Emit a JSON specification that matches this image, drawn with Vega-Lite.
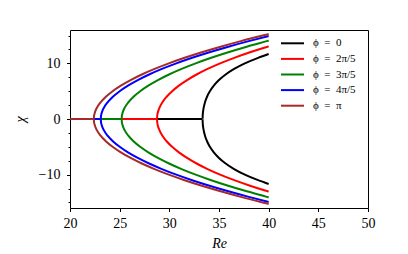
{
  "$schema": "https://vega.github.io/schema/vega-lite/v6.json",
  "autosize": {"type": "none"},
  "padding": {"left": 70, "top": 30, "right": 40, "bottom": 46},
  "width": 298,
  "height": 178,
  "background": "white",
  "config": {"view": {"stroke": "black", "strokeWidth": 1}, "font": "Liberation Serif"},
  "data": {"values": [
    {"phi": "ϕ = 0", "part": "h", "Re": 20, "chi": 0},
    {"phi": "ϕ = 0", "part": "h", "Re": 33.35, "chi": 0},
    {"phi": "ϕ = 0", "part": "b", "Re": 40.0, "chi": -11.68},
    {"phi": "ϕ = 0", "part": "b", "Re": 38.937, "chi": -11},
    {"phi": "ϕ = 0", "part": "b", "Re": 37.6, "chi": -10},
    {"phi": "ϕ = 0", "part": "b", "Re": 36.523, "chi": -9},
    {"phi": "ϕ = 0", "part": "b", "Re": 35.667, "chi": -8},
    {"phi": "ϕ = 0", "part": "b", "Re": 34.995, "chi": -7},
    {"phi": "ϕ = 0", "part": "b", "Re": 34.477, "chi": -6},
    {"phi": "ϕ = 0", "part": "b", "Re": 34.084, "chi": -5},
    {"phi": "ϕ = 0", "part": "b", "Re": 33.795, "chi": -4},
    {"phi": "ϕ = 0", "part": "b", "Re": 33.589, "chi": -3},
    {"phi": "ϕ = 0", "part": "b", "Re": 33.453, "chi": -2},
    {"phi": "ϕ = 0", "part": "b", "Re": 33.407, "chi": -1.5},
    {"phi": "ϕ = 0", "part": "b", "Re": 33.375, "chi": -1},
    {"phi": "ϕ = 0", "part": "b", "Re": 33.356, "chi": -0.5},
    {"phi": "ϕ = 0", "part": "b", "Re": 33.35, "chi": 0},
    {"phi": "ϕ = 0", "part": "b", "Re": 33.356, "chi": 0.5},
    {"phi": "ϕ = 0", "part": "b", "Re": 33.375, "chi": 1},
    {"phi": "ϕ = 0", "part": "b", "Re": 33.407, "chi": 1.5},
    {"phi": "ϕ = 0", "part": "b", "Re": 33.453, "chi": 2},
    {"phi": "ϕ = 0", "part": "b", "Re": 33.589, "chi": 3},
    {"phi": "ϕ = 0", "part": "b", "Re": 33.795, "chi": 4},
    {"phi": "ϕ = 0", "part": "b", "Re": 34.084, "chi": 5},
    {"phi": "ϕ = 0", "part": "b", "Re": 34.477, "chi": 6},
    {"phi": "ϕ = 0", "part": "b", "Re": 34.995, "chi": 7},
    {"phi": "ϕ = 0", "part": "b", "Re": 35.667, "chi": 8},
    {"phi": "ϕ = 0", "part": "b", "Re": 36.523, "chi": 9},
    {"phi": "ϕ = 0", "part": "b", "Re": 37.6, "chi": 10},
    {"phi": "ϕ = 0", "part": "b", "Re": 38.937, "chi": 11},
    {"phi": "ϕ = 0", "part": "b", "Re": 40.0, "chi": 11.68},

    {"phi": "ϕ = 2π/5", "part": "h", "Re": 20, "chi": 0},
    {"phi": "ϕ = 2π/5", "part": "h", "Re": 28.76, "chi": 0},
    {"phi": "ϕ = 2π/5", "part": "b", "Re": 40.0, "chi": -13.05},
    {"phi": "ϕ = 2π/5", "part": "b", "Re": 39.9, "chi": -13},
    {"phi": "ϕ = 2π/5", "part": "b", "Re": 38.126, "chi": -12},
    {"phi": "ϕ = 2π/5", "part": "b", "Re": 36.532, "chi": -11},
    {"phi": "ϕ = 2π/5", "part": "b", "Re": 35.11, "chi": -10},
    {"phi": "ϕ = 2π/5", "part": "b", "Re": 33.85, "chi": -9},
    {"phi": "ϕ = 2π/5", "part": "b", "Re": 32.743, "chi": -8},
    {"phi": "ϕ = 2π/5", "part": "b", "Re": 31.784, "chi": -7},
    {"phi": "ϕ = 2π/5", "part": "b", "Re": 30.965, "chi": -6},
    {"phi": "ϕ = 2π/5", "part": "b", "Re": 30.282, "chi": -5},
    {"phi": "ϕ = 2π/5", "part": "b", "Re": 29.729, "chi": -4},
    {"phi": "ϕ = 2π/5", "part": "b", "Re": 29.303, "chi": -3},
    {"phi": "ϕ = 2π/5", "part": "b", "Re": 29.0, "chi": -2},
    {"phi": "ϕ = 2π/5", "part": "b", "Re": 28.895, "chi": -1.5},
    {"phi": "ϕ = 2π/5", "part": "b", "Re": 28.82, "chi": -1},
    {"phi": "ϕ = 2π/5", "part": "b", "Re": 28.775, "chi": -0.5},
    {"phi": "ϕ = 2π/5", "part": "b", "Re": 28.76, "chi": 0},
    {"phi": "ϕ = 2π/5", "part": "b", "Re": 28.775, "chi": 0.5},
    {"phi": "ϕ = 2π/5", "part": "b", "Re": 28.82, "chi": 1},
    {"phi": "ϕ = 2π/5", "part": "b", "Re": 28.895, "chi": 1.5},
    {"phi": "ϕ = 2π/5", "part": "b", "Re": 29.0, "chi": 2},
    {"phi": "ϕ = 2π/5", "part": "b", "Re": 29.303, "chi": 3},
    {"phi": "ϕ = 2π/5", "part": "b", "Re": 29.729, "chi": 4},
    {"phi": "ϕ = 2π/5", "part": "b", "Re": 30.282, "chi": 5},
    {"phi": "ϕ = 2π/5", "part": "b", "Re": 30.965, "chi": 6},
    {"phi": "ϕ = 2π/5", "part": "b", "Re": 31.784, "chi": 7},
    {"phi": "ϕ = 2π/5", "part": "b", "Re": 32.743, "chi": 8},
    {"phi": "ϕ = 2π/5", "part": "b", "Re": 33.85, "chi": 9},
    {"phi": "ϕ = 2π/5", "part": "b", "Re": 35.11, "chi": 10},
    {"phi": "ϕ = 2π/5", "part": "b", "Re": 36.532, "chi": 11},
    {"phi": "ϕ = 2π/5", "part": "b", "Re": 38.126, "chi": 12},
    {"phi": "ϕ = 2π/5", "part": "b", "Re": 39.9, "chi": 13},
    {"phi": "ϕ = 2π/5", "part": "b", "Re": 40.0, "chi": 13.05},

    {"phi": "ϕ = 3π/5", "part": "h", "Re": 20, "chi": 0},
    {"phi": "ϕ = 3π/5", "part": "h", "Re": 25.2, "chi": 0},
    {"phi": "ϕ = 3π/5", "part": "b", "Re": 40.0, "chi": -14.1},
    {"phi": "ϕ = 3π/5", "part": "b", "Re": 39.802, "chi": -14},
    {"phi": "ϕ = 3π/5", "part": "b", "Re": 37.791, "chi": -13},
    {"phi": "ϕ = 3π/5", "part": "b", "Re": 35.928, "chi": -12},
    {"phi": "ϕ = 3π/5", "part": "b", "Re": 34.215, "chi": -11},
    {"phi": "ϕ = 3π/5", "part": "b", "Re": 32.65, "chi": -10},
    {"phi": "ϕ = 3π/5", "part": "b", "Re": 31.235, "chi": -9},
    {"phi": "ϕ = 3π/5", "part": "b", "Re": 29.968, "chi": -8},
    {"phi": "ϕ = 3π/5", "part": "b", "Re": 28.851, "chi": -7},
    {"phi": "ϕ = 3π/5", "part": "b", "Re": 27.882, "chi": -6},
    {"phi": "ϕ = 3π/5", "part": "b", "Re": 27.063, "chi": -5},
    {"phi": "ϕ = 3π/5", "part": "b", "Re": 26.392, "chi": -4},
    {"phi": "ϕ = 3π/5", "part": "b", "Re": 25.871, "chi": -3},
    {"phi": "ϕ = 3π/5", "part": "b", "Re": 25.498, "chi": -2},
    {"phi": "ϕ = 3π/5", "part": "b", "Re": 25.368, "chi": -1.5},
    {"phi": "ϕ = 3π/5", "part": "b", "Re": 25.275, "chi": -1},
    {"phi": "ϕ = 3π/5", "part": "b", "Re": 25.219, "chi": -0.5},
    {"phi": "ϕ = 3π/5", "part": "b", "Re": 25.2, "chi": 0},
    {"phi": "ϕ = 3π/5", "part": "b", "Re": 25.219, "chi": 0.5},
    {"phi": "ϕ = 3π/5", "part": "b", "Re": 25.275, "chi": 1},
    {"phi": "ϕ = 3π/5", "part": "b", "Re": 25.368, "chi": 1.5},
    {"phi": "ϕ = 3π/5", "part": "b", "Re": 25.498, "chi": 2},
    {"phi": "ϕ = 3π/5", "part": "b", "Re": 25.871, "chi": 3},
    {"phi": "ϕ = 3π/5", "part": "b", "Re": 26.392, "chi": 4},
    {"phi": "ϕ = 3π/5", "part": "b", "Re": 27.063, "chi": 5},
    {"phi": "ϕ = 3π/5", "part": "b", "Re": 27.882, "chi": 6},
    {"phi": "ϕ = 3π/5", "part": "b", "Re": 28.851, "chi": 7},
    {"phi": "ϕ = 3π/5", "part": "b", "Re": 29.968, "chi": 8},
    {"phi": "ϕ = 3π/5", "part": "b", "Re": 31.235, "chi": 9},
    {"phi": "ϕ = 3π/5", "part": "b", "Re": 32.65, "chi": 10},
    {"phi": "ϕ = 3π/5", "part": "b", "Re": 34.215, "chi": 11},
    {"phi": "ϕ = 3π/5", "part": "b", "Re": 35.928, "chi": 12},
    {"phi": "ϕ = 3π/5", "part": "b", "Re": 37.791, "chi": 13},
    {"phi": "ϕ = 3π/5", "part": "b", "Re": 39.802, "chi": 14},
    {"phi": "ϕ = 3π/5", "part": "b", "Re": 40.0, "chi": 14.1},

    {"phi": "ϕ = 4π/5", "part": "h", "Re": 20, "chi": 0},
    {"phi": "ϕ = 4π/5", "part": "h", "Re": 23.1, "chi": 0},
    {"phi": "ϕ = 4π/5", "part": "b", "Re": 40.0, "chi": -14.91},
    {"phi": "ϕ = 4π/5", "part": "b", "Re": 37.996, "chi": -14},
    {"phi": "ϕ = 4π/5", "part": "b", "Re": 35.944, "chi": -13},
    {"phi": "ϕ = 4π/5", "part": "b", "Re": 34.044, "chi": -12},
    {"phi": "ϕ = 4π/5", "part": "b", "Re": 32.296, "chi": -11},
    {"phi": "ϕ = 4π/5", "part": "b", "Re": 30.7, "chi": -10},
    {"phi": "ϕ = 4π/5", "part": "b", "Re": 29.256, "chi": -9},
    {"phi": "ϕ = 4π/5", "part": "b", "Re": 27.964, "chi": -8},
    {"phi": "ϕ = 4π/5", "part": "b", "Re": 26.824, "chi": -7},
    {"phi": "ϕ = 4π/5", "part": "b", "Re": 25.836, "chi": -6},
    {"phi": "ϕ = 4π/5", "part": "b", "Re": 25.0, "chi": -5},
    {"phi": "ϕ = 4π/5", "part": "b", "Re": 24.316, "chi": -4},
    {"phi": "ϕ = 4π/5", "part": "b", "Re": 23.784, "chi": -3},
    {"phi": "ϕ = 4π/5", "part": "b", "Re": 23.404, "chi": -2},
    {"phi": "ϕ = 4π/5", "part": "b", "Re": 23.271, "chi": -1.5},
    {"phi": "ϕ = 4π/5", "part": "b", "Re": 23.176, "chi": -1},
    {"phi": "ϕ = 4π/5", "part": "b", "Re": 23.119, "chi": -0.5},
    {"phi": "ϕ = 4π/5", "part": "b", "Re": 23.1, "chi": 0},
    {"phi": "ϕ = 4π/5", "part": "b", "Re": 23.119, "chi": 0.5},
    {"phi": "ϕ = 4π/5", "part": "b", "Re": 23.176, "chi": 1},
    {"phi": "ϕ = 4π/5", "part": "b", "Re": 23.271, "chi": 1.5},
    {"phi": "ϕ = 4π/5", "part": "b", "Re": 23.404, "chi": 2},
    {"phi": "ϕ = 4π/5", "part": "b", "Re": 23.784, "chi": 3},
    {"phi": "ϕ = 4π/5", "part": "b", "Re": 24.316, "chi": 4},
    {"phi": "ϕ = 4π/5", "part": "b", "Re": 25.0, "chi": 5},
    {"phi": "ϕ = 4π/5", "part": "b", "Re": 25.836, "chi": 6},
    {"phi": "ϕ = 4π/5", "part": "b", "Re": 26.824, "chi": 7},
    {"phi": "ϕ = 4π/5", "part": "b", "Re": 27.964, "chi": 8},
    {"phi": "ϕ = 4π/5", "part": "b", "Re": 29.256, "chi": 9},
    {"phi": "ϕ = 4π/5", "part": "b", "Re": 30.7, "chi": 10},
    {"phi": "ϕ = 4π/5", "part": "b", "Re": 32.296, "chi": 11},
    {"phi": "ϕ = 4π/5", "part": "b", "Re": 34.044, "chi": 12},
    {"phi": "ϕ = 4π/5", "part": "b", "Re": 35.944, "chi": 13},
    {"phi": "ϕ = 4π/5", "part": "b", "Re": 37.996, "chi": 14},
    {"phi": "ϕ = 4π/5", "part": "b", "Re": 40.0, "chi": 14.91},

    {"phi": "ϕ = π", "part": "h", "Re": 20, "chi": 0},
    {"phi": "ϕ = π", "part": "h", "Re": 22.4, "chi": 0},
    {"phi": "ϕ = π", "part": "b", "Re": 40.0, "chi": -15.27},
    {"phi": "ϕ = π", "part": "b", "Re": 39.388, "chi": -15},
    {"phi": "ϕ = π", "part": "b", "Re": 37.198, "chi": -14},
    {"phi": "ϕ = π", "part": "b", "Re": 35.16, "chi": -13},
    {"phi": "ϕ = π", "part": "b", "Re": 33.272, "chi": -12},
    {"phi": "ϕ = π", "part": "b", "Re": 31.536, "chi": -11},
    {"phi": "ϕ = π", "part": "b", "Re": 29.95, "chi": -10},
    {"phi": "ϕ = π", "part": "b", "Re": 28.516, "chi": -9},
    {"phi": "ϕ = π", "part": "b", "Re": 27.232, "chi": -8},
    {"phi": "ϕ = π", "part": "b", "Re": 26.1, "chi": -7},
    {"phi": "ϕ = π", "part": "b", "Re": 25.118, "chi": -6},
    {"phi": "ϕ = π", "part": "b", "Re": 24.288, "chi": -5},
    {"phi": "ϕ = π", "part": "b", "Re": 23.608, "chi": -4},
    {"phi": "ϕ = π", "part": "b", "Re": 23.08, "chi": -3},
    {"phi": "ϕ = π", "part": "b", "Re": 22.702, "chi": -2},
    {"phi": "ϕ = π", "part": "b", "Re": 22.57, "chi": -1.5},
    {"phi": "ϕ = π", "part": "b", "Re": 22.476, "chi": -1},
    {"phi": "ϕ = π", "part": "b", "Re": 22.419, "chi": -0.5},
    {"phi": "ϕ = π", "part": "b", "Re": 22.4, "chi": 0},
    {"phi": "ϕ = π", "part": "b", "Re": 22.419, "chi": 0.5},
    {"phi": "ϕ = π", "part": "b", "Re": 22.476, "chi": 1},
    {"phi": "ϕ = π", "part": "b", "Re": 22.57, "chi": 1.5},
    {"phi": "ϕ = π", "part": "b", "Re": 22.702, "chi": 2},
    {"phi": "ϕ = π", "part": "b", "Re": 23.08, "chi": 3},
    {"phi": "ϕ = π", "part": "b", "Re": 23.608, "chi": 4},
    {"phi": "ϕ = π", "part": "b", "Re": 24.288, "chi": 5},
    {"phi": "ϕ = π", "part": "b", "Re": 25.118, "chi": 6},
    {"phi": "ϕ = π", "part": "b", "Re": 26.1, "chi": 7},
    {"phi": "ϕ = π", "part": "b", "Re": 27.232, "chi": 8},
    {"phi": "ϕ = π", "part": "b", "Re": 28.516, "chi": 9},
    {"phi": "ϕ = π", "part": "b", "Re": 29.95, "chi": 10},
    {"phi": "ϕ = π", "part": "b", "Re": 31.536, "chi": 11},
    {"phi": "ϕ = π", "part": "b", "Re": 33.272, "chi": 12},
    {"phi": "ϕ = π", "part": "b", "Re": 35.16, "chi": 13},
    {"phi": "ϕ = π", "part": "b", "Re": 37.198, "chi": 14},
    {"phi": "ϕ = π", "part": "b", "Re": 39.388, "chi": 15},
    {"phi": "ϕ = π", "part": "b", "Re": 40.0, "chi": 15.27}
  ]},
  "mark": {"type": "line", "strokeWidth": 2, "interpolate": "monotone", "clip": true},
  "encoding": {
    "x": {
      "field": "Re", "type": "quantitative",
      "scale": {"domain": [20, 50], "nice": false, "zero": false},
      "axis": {
        "values": [20, 25, 30, 35, 40, 45, 50],
        "title": "Re", "titleFont": "Liberation Serif", "titleFontStyle": "italic", "titleFontWeight": "normal", "titleFontSize": 14, "titleColor": "black", "titlePadding": 6,
        "labelFont": "Liberation Serif", "labelFontSize": 14, "labelColor": "black", "labelPadding": 5, "labelFlush": false, "labelOverlap": false,
        "tickSize": 3.5, "tickColor": "black", "tickWidth": 1, "domain": false, "grid": false
      }
    },
    "y": {
      "field": "chi", "type": "quantitative",
      "scale": {"domain": [-16, 16], "nice": false, "zero": false},
      "axis": {
        "values": [-15, -12.5, -10, -7.5, -5, -2.5, 0, 2.5, 5, 7.5, 10, 12.5, 15],
        "labelExpr": "datum.value % 10 === 0 ? datum.label : ''",
        "title": "χ", "titleFont": "Liberation Serif", "titleFontStyle": "italic", "titleFontWeight": "normal", "titleFontSize": 14, "titleColor": "black", "titlePadding": 11,
        "labelFont": "Liberation Serif", "labelFontSize": 14, "labelColor": "black", "labelPadding": 6.5, "labelFlush": false, "labelOverlap": false,
        "tickSize": {"condition": {"test": "datum.value % 10 === 0", "value": 3.5}, "value": 2},
        "tickColor": "black", "tickWidth": 1, "domain": false, "grid": false
      }
    },
    "color": {
      "field": "phi", "type": "nominal",
      "scale": {"domain": ["ϕ = 0", "ϕ = 2π/5", "ϕ = 3π/5", "ϕ = 4π/5", "ϕ = π"], "range": ["#000000", "#ff0000", "#008000", "#0000ff", "#a52a2a"]},
      "legend": {
        "orient": "none", "legendX": 216.5, "legendY": 7.3, "title": null,
        "symbolType": "M-2.3,0H2.3", "symbolSize": 100, "symbolStrokeWidth": 2,
        "labelFont": "Liberation Serif", "labelFontSize": 11, "labelColor": "black", "labelOffset": 14.5,
        "labelExpr": "replace(datum.label, ' = ', '\u2002=\u2002')",
        "rowPadding": 4.6, "padding": 0
      }
    },
    "detail": {"field": "part"},
    "order": {"field": "chi"}
  }
}
